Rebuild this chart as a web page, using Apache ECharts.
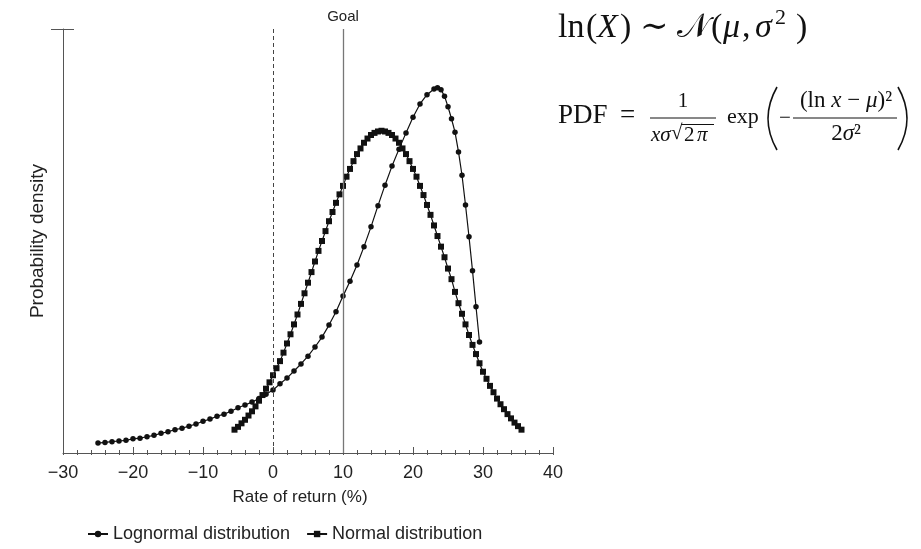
<!DOCTYPE html>
<html>
<head>
<meta charset="utf-8">
<script src="https://cdn.jsdelivr.net/npm/echarts@6/dist/echarts.min.js"></script>
<style>
  html, body { margin: 0; padding: 0; background: #fff; }
  #main { width: 921px; height: 549px; }
</style>
</head>
<body>
<div id="main"></div>
<script>
// rate of return (%) and probability density (% per point)
var lognormalX = [-25, -24, -23, -22, -21, -20, -19, -18, -17, -16, -15, -14, -13, -12, -11, -10,
  -9, -8, -7, -6, -5, -4, -3, -2, -1, 0, 1, 2, 3, 4, 5, 6, 7, 8, 9, 10, 11, 12, 13, 14, 15,
  16, 17, 18, 19, 20, 21, 22, 23, 23.5, 24, 24.5, 25, 25.5, 26, 26.5, 27, 27.5, 28, 28.5, 29, 29.5];
var lognormalY = [0.14, 0.15, 0.16, 0.17, 0.18, 0.20, 0.21, 0.23, 0.25, 0.28, 0.30, 0.33, 0.35, 0.38, 0.41, 0.45,
  0.48, 0.52, 0.55, 0.59, 0.64, 0.68, 0.72, 0.77, 0.83, 0.89, 0.98, 1.06, 1.16, 1.26, 1.37, 1.50, 1.64, 1.81, 2.00, 2.22, 2.43, 2.66, 2.92, 3.20, 3.50,
  3.79, 4.06, 4.30, 4.53, 4.75, 4.94, 5.07, 5.15, 5.17, 5.14, 5.05, 4.90, 4.73, 4.54, 4.26, 3.93, 3.51, 3.06, 2.58, 2.07, 1.57];

var normalX = [-5.5, -5, -4.5, -4, -3.5, -3, -2.5, -2, -1.5, -1, -0.5, 0, 0.5, 1, 1.5, 2, 2.5, 3, 3.5, 4, 4.5,
  5, 5.5, 6, 6.5, 7, 7.5, 8, 8.5, 9, 9.5, 10, 10.5, 11, 11.5, 12, 12.5, 13, 13.5, 14, 14.5, 15, 15.5,
  16, 16.5, 17, 17.5, 18, 18.5, 19, 19.5, 20, 20.5, 21, 21.5, 22, 22.5, 23, 23.5, 24, 24.5, 25, 25.5,
  26, 26.5, 27, 27.5, 28, 28.5, 29, 29.5, 30, 30.5, 31, 31.5, 32, 32.5, 33, 33.5, 34, 34.5, 35, 35.5];
var normalY = [0.33, 0.37, 0.42, 0.47, 0.53, 0.59, 0.66, 0.74, 0.82, 0.91, 1.00, 1.10, 1.20, 1.30, 1.42, 1.55, 1.68, 1.82, 1.96, 2.11, 2.26,
  2.41, 2.56, 2.71, 2.86, 3.00, 3.14, 3.28, 3.41, 3.54, 3.66, 3.78, 3.91, 4.02, 4.13, 4.23, 4.31, 4.39, 4.45, 4.50, 4.53, 4.55, 4.56,
  4.55, 4.53, 4.50, 4.45, 4.39, 4.31, 4.23, 4.13, 4.02, 3.91, 3.78, 3.65, 3.51, 3.37, 3.22, 3.07, 2.92, 2.77, 2.61, 2.46,
  2.28, 2.12, 1.97, 1.82, 1.67, 1.53, 1.40, 1.27, 1.15, 1.05, 0.95, 0.86, 0.77, 0.69, 0.62, 0.55, 0.49, 0.43, 0.38, 0.33];

var zeroLine = 0;
var goalLine = 10;
var seriesNames = ['Lognormal distribution', 'Normal distribution'];

function pairs(xs, ys) {
  return xs.map(function (x, i) { return [x, ys[i]]; });
}

// formula drawn as text pieces
var serif = '"Liberation Serif", "DejaVu Serif", serif';
function mt(text, x, y, size, italic, align) {
  return {
    type: 'text', x: x, y: y, silent: true,
    style: {
      text: text, fill: '#111',
      font: (italic ? 'italic ' : '') + size + 'px ' + serif,
      align: align || 'left', verticalAlign: 'middle',
      textAlign: align || 'left', textVerticalAlign: 'middle'
    }
  };
}
function rich(text, x, y, size, align) {
  return {
    type: 'text', x: x, y: y, silent: true,
    style: {
      text: text, fill: '#111',
      font: size + 'px ' + serif,
      align: align, verticalAlign: 'middle',
      textAlign: align, textVerticalAlign: 'middle',
      rich: {
        r: { font: size + 'px ' + serif, fill: '#111' },
        i: { font: 'italic ' + size + 'px ' + serif, fill: '#111' }
      }
    }
  };
}
function rule(x1, x2, y, w) {
  return { type: 'line', silent: true, shape: { x1: x1, y1: y, x2: x2, y2: y }, style: { stroke: '#111', lineWidth: w || 1 } };
}
function paren(x0, xc, y1, y2) {
  return {
    type: 'bezierCurve', silent: true,
    shape: { x1: x0, y1: y1, x2: x0, y2: y2, cpx1: xc, cpy1: (y1 + y2) / 2 },
    style: { stroke: '#111', lineWidth: 1.6, fill: null }
  };
}

var formula = [
  mt('ln', 558, 28, 34),
  mt('(', 586, 28, 34),
  mt('X', 597, 28, 34, true),
  mt(')', 620, 28, 34),
  mt('\u223C', 640, 28, 34),
  mt('\uD835\uDCA9', 677, 28, 34),
  mt('(', 711, 28, 34),
  mt('\u03BC', 723, 28, 34, true),
  mt(',', 742, 28, 34),
  mt('\u03C3', 755, 28, 34, true),
  mt('2', 775, 18, 22),
  mt(')', 796, 28, 34),

  mt('PDF', 558, 116, 27),
  mt('=', 620, 116, 27),
  mt('1', 683, 101, 21, false, 'center'),
  rule(650, 716, 118),
  mt('x\u03C3', 651, 135, 21, true),
  mt('\u221A', 671, 133, 21),
  rule(681, 714, 124.5),
  mt('2', 684, 135, 21),
  mt('\u03C0', 697, 135, 21, true),
  mt('exp', 727, 117.5, 22),
  paren(777, 759, 87, 150),
  mt('\u2212', 779, 118, 21),
  rich('{r|(ln }{i|x}{r| \u2212 }{i|\u03BC}{r|)\u00B2}', 846, 101, 23, 'center'),
  rule(793, 897, 118),
  rich('{r|2}{i|\u03C3}{r|\u00B2}', 846, 134, 23, 'center'),
  paren(898, 916, 87, 150)
];

var sans = '"Liberation Sans", Arial, sans-serif';
var chart = echarts.init(document.getElementById('main'));
chart.setOption({
  backgroundColor: '#fff',
  animation: false,
  textStyle: { fontFamily: sans, color: '#222' },
  grid: { left: 63, right: 368, top: 29, bottom: 96 },
  legend: {
    data: seriesNames,
    left: 82, top: 520,
    itemWidth: 20, itemHeight: 8, itemGap: 16,
    textStyle: { fontFamily: sans, fontSize: 18, color: '#222' }
  },
  xAxis: [{
    type: 'value', min: -30, max: 40, interval: 10,
    name: 'Rate of return (%)', nameLocation: 'middle', nameGap: 36,
    nameTextStyle: { fontFamily: sans, fontSize: 17, color: '#222', padding: [0, 16, 0, 0] },
    axisLine: { onZero: false, lineStyle: { color: '#555', width: 1 } },
    axisTick: { inside: true, length: 6, lineStyle: { color: '#555' } },
    minorTick: { show: true, splitNumber: 5, length: 3, lineStyle: { color: '#555' } },
    axisLabel: {
      fontFamily: sans, fontSize: 18, color: '#222', margin: 11,
      formatter: function (v) { return v < 0 ? '\u2212' + Math.abs(v) : String(v); }
    },
    splitLine: { show: false }
  }, {
    type: 'value', min: -30, max: 40, interval: 10, position: 'bottom', offset: 0,
    axisLine: { show: false, onZero: false },
    axisTick: { inside: false, length: 2, lineStyle: { color: '#555' } },
    minorTick: { show: true, splitNumber: 5, length: 2, lineStyle: { color: '#555' } },
    axisLabel: { show: false },
    splitLine: { show: false }
  }],
  yAxis: [{
    type: 'value', min: 0, max: 6,
    name: 'Probability density', nameLocation: 'middle', nameGap: 16,
    nameTextStyle: { fontFamily: sans, fontSize: 19, color: '#222' },
    axisLine: { show: true, onZero: false, lineStyle: { color: '#555', width: 1 } },
    axisTick: { show: true, inside: false, length: 12, customValues: [6], lineStyle: { color: '#555' } },
    axisLabel: { show: false },
    splitLine: { show: false }
  }, {
    type: 'value', min: 0, max: 6, position: 'left', offset: 0,
    axisLine: { show: false, onZero: false },
    axisTick: { show: true, inside: true, length: 11, customValues: [6], lineStyle: { color: '#555' } },
    axisLabel: { show: false },
    splitLine: { show: false }
  }],
  series: [{
    name: seriesNames[0],
    type: 'line',
    data: pairs(lognormalX, lognormalY),
    symbol: 'circle', symbolSize: 5.5, showAllSymbol: true,
    lineStyle: { color: '#111', width: 1.2 },
    itemStyle: { color: '#111' },
    z: 3
  }, {
    name: seriesNames[1],
    type: 'line',
    data: pairs(normalX, normalY),
    symbol: 'rect', symbolSize: 6, showAllSymbol: true,
    lineStyle: { color: '#111', width: 1.2 },
    itemStyle: { color: '#111' },
    z: 3,
    markLine: {
      silent: true,
      symbol: ['none', 'none'],
      data: [
        { xAxis: zeroLine, lineStyle: { type: [4, 3], color: '#444', width: 1 }, label: { show: false } },
        {
          xAxis: goalLine, lineStyle: { type: 'solid', color: '#777', width: 1.3 },
          label: { show: true, position: 'end', formatter: 'Goal', fontFamily: sans, fontSize: 15, color: '#222', distance: 5 }
        }
      ]
    }
  }],
  graphic: formula
});
</script>
</body>
</html>
